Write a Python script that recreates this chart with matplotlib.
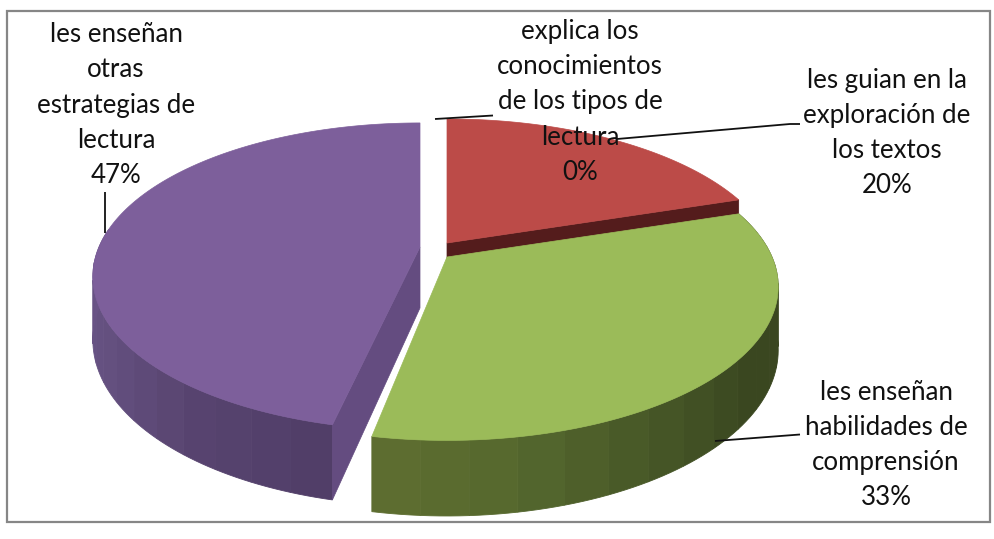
import numpy as np
import matplotlib
matplotlib.use("Agg")
import matplotlib.pyplot as plt
from matplotlib.patches import Polygon, Rectangle

# ---- data ----
categories = ["explica los\nconocimientos\nde los tipos de\nlectura",
              "les guian en la\nexploración de\nlos textos",
              "les enseñan\nhabilidades de\ncomprensión",
              "les enseñan\notras\nestrategias de\nlectura"]
values = [0, 20, 33, 47]
percent_labels = ["0%", "20%", "33%", "47%"]

# ---- style ----
plt.rcParams['font.family'] = ['Lato', 'DejaVu Sans']
RY, PERSP, DEPTH = 148.0, 0.193, 61.0
radius_x = {1: 325.0, 2: 325.0, 3: 321.0}
centers = {1: (447, 243), 2: (447, 257), 3: (420, 247)}
top_cols = {1: "#BC4B48", 2: "#9BBB59", 3: "#7D5F9B"}
start_tweak = {0: 0, 1: 0, 2: 0, 3: 2}

def proj(theta, i, drop=0.0):
    c = centers[i]
    t = np.radians(theta)
    x, y = np.sin(t), np.cos(t)
    w = 1 + PERSP * y
    return c[0] + radius_x[i] * x / w, c[1] - RY * y / w + drop / w

def lerp_color(stops, th):
    ths = [s[0] for s in stops]
    cols = np.array([matplotlib.colors.to_rgb(s[1]) for s in stops])
    return tuple(np.interp(th, ths, cols[:, i]) for i in range(3))

rim_stops = {
    2: [(72, "#3A4520"), (125, "#3A4720"), (150, "#475827"), (170, "#55682E"), (192, "#5F6E30")],
    3: [(190, "#4F3D66"), (215, "#57436F"), (240, "#64507F"), (275, "#6A5488")],
}

fig = plt.figure(figsize=(9.95, 5.39), dpi=100)
ax = fig.add_axes([0, 0, 1, 1])
ax.set_xlim(0, 995)
ax.set_ylim(539, 0)
ax.axis("off")

ax.add_patch(Rectangle((7, 11), 983, 511, fill=False, ec="#868686", lw=1.6, zorder=0))

# slice angle spans from the values
total = float(sum(values))
edges = np.concatenate([[0], np.cumsum(values)]) / total * 360.0
spans = {i: (edges[i] + start_tweak[i], edges[i + 1]) for i in range(len(values))}

def rim(i, zorder):
    a, b = spans[i]
    a = max(a, 60)
    b = min(b, 277)
    bands = np.linspace(a, b, int((b - a) / 7) + 2)
    for t0, t1 in zip(bands[:-1], bands[1:]):
        ts = np.linspace(t0, t1, 6)
        xa, ya = proj(ts, i)
        xb, yb = proj(ts, i, DEPTH)
        pts = np.column_stack([np.r_[xa, xb[::-1]], np.r_[ya, yb[::-1]]])
        col = lerp_color(rim_stops[i], 0.5 * (t0 + t1))
        ax.add_patch(Polygon(pts, fc=col, ec=col, lw=0.6, zorder=zorder))

def top(i, zorder):
    a, b = spans[i]
    c = centers[i]
    ts = np.linspace(a, b, 200)
    xs, ys = proj(ts, i)
    pts = np.column_stack([np.r_[c[0], xs], np.r_[c[1], ys]])
    ax.add_patch(Polygon(pts, fc=top_cols[i], ec=top_cols[i], lw=0.5, zorder=zorder))

def cut(i, theta, col, zorder):
    c = centers[i]
    x, y = proj(theta, i)
    x2, y2 = proj(theta, i, DEPTH)
    pts = [(c[0], c[1]), (x, y), (x2, y2), (c[0], c[1] + DEPTH)]
    ax.add_patch(Polygon(pts, fc=col, ec=col, lw=0.5, zorder=zorder))

# red slice, behind the others
cut(1, spans[1][1], "#541C1C", 1)
top(1, 2)
# purple slice
rim(3, 3)
cut(3, spans[3][0], "#644C80", 4)
top(3, 5)
# green slice, in front
rim(2, 6)
top(2, 7)

# labels
label_pos = [(580, 102), (887, 133), (886, 445), (116, 105)]
for name, pct, (x, y) in zip(categories, percent_labels, label_pos):
    ax.text(x, y, name + "\n" + pct, ha="center", va="center", fontsize=18.6,
            color="#111111", linespacing=1.51, zorder=10)

# leader lines
leaders = [((435, 119), (493, 115.5)),
           ((617, 139), (790, 124), (800, 124)),
           ((715, 441), (800, 434.5)),
           ((105, 233), (105, 192))]
for ln in leaders:
    xs, ys = zip(*ln)
    ax.plot(xs, ys, color="#111111", lw=1.3, zorder=11, solid_capstyle="butt")

fig.savefig("out.png", dpi=100)
